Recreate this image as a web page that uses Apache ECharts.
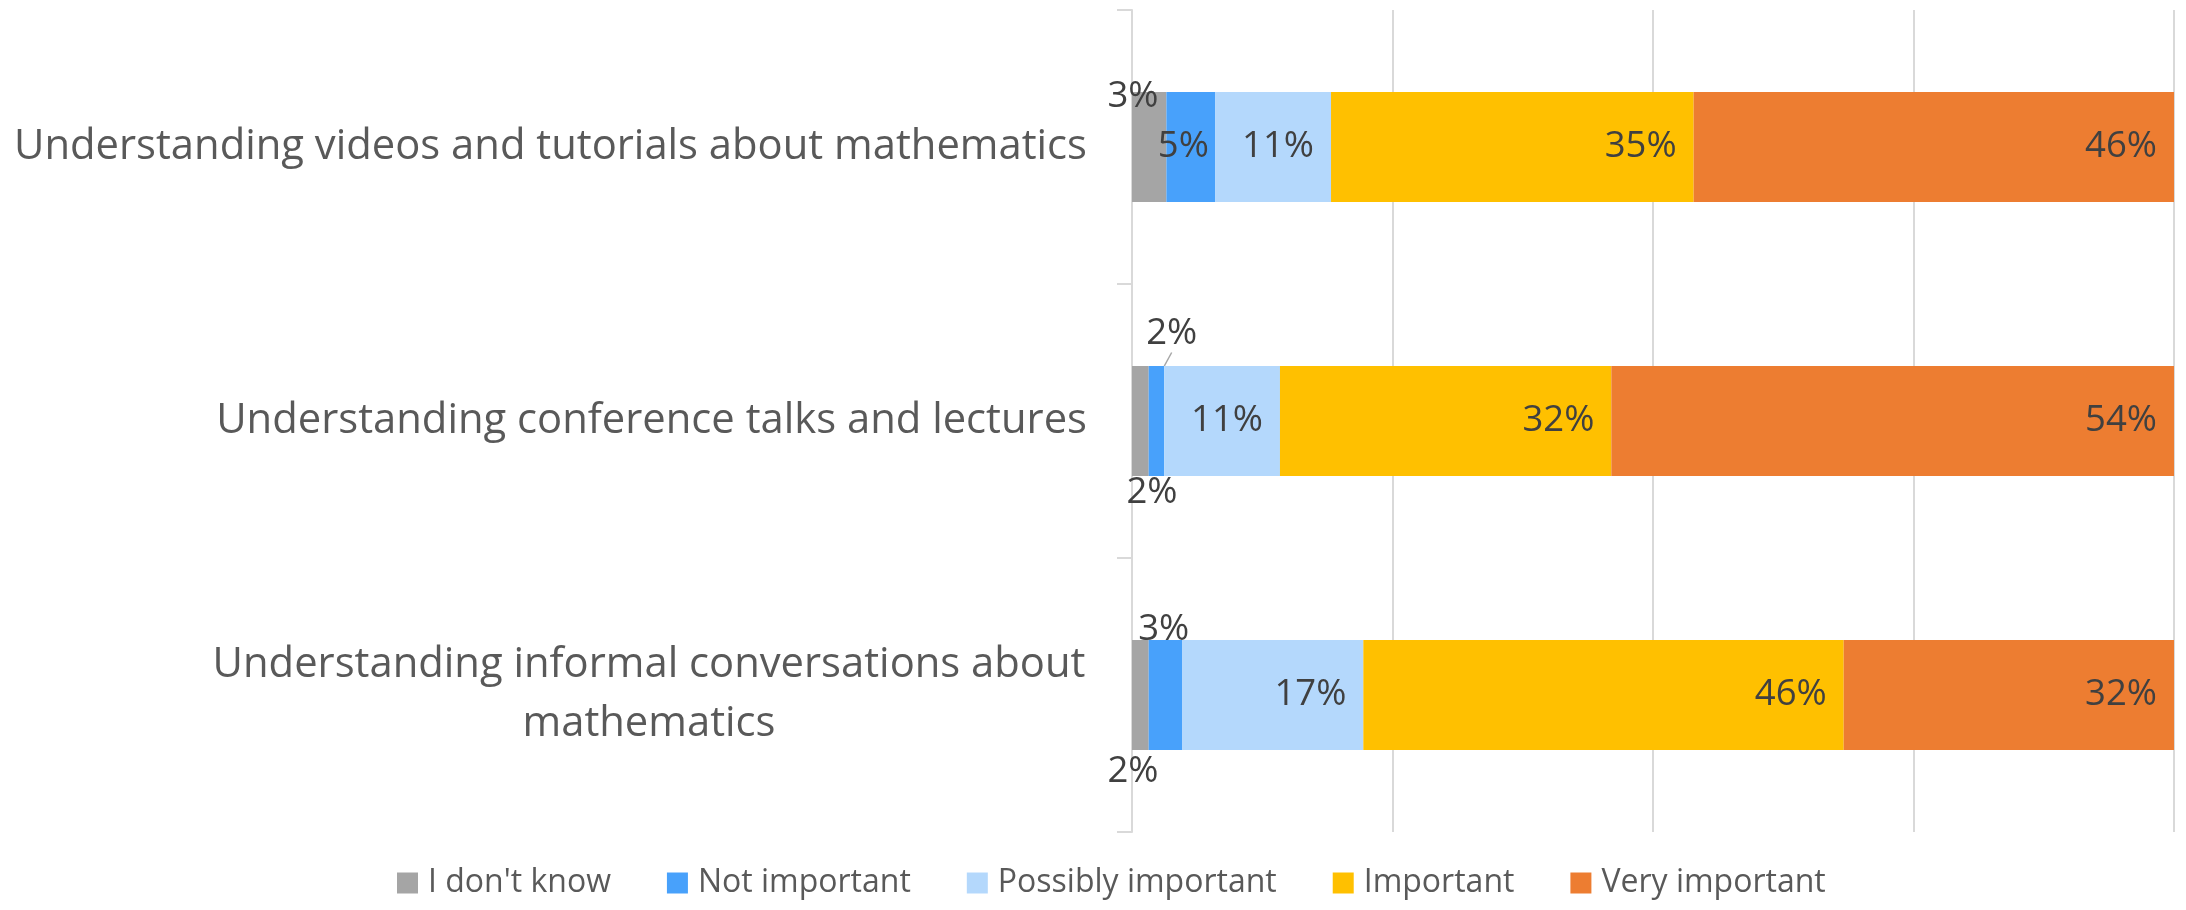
<!DOCTYPE html>
<html>
<head>
<meta charset="utf-8">
<style>
html,body{margin:0;padding:0;background:#fff;}
#chart{width:2186px;height:910px;}
</style>
<script src="https://cdn.jsdelivr.net/npm/echarts@6/dist/echarts.min.js"></script>
</head>
<body>
<div id="chart"></div>
<script>
// ---- data ----
const categories = [
  'Understanding videos and tutorials about mathematics',
  'Understanding conference talks and lectures',
  'Understanding informal conversations about\nmathematics'
];
const seriesNames = ['I don\'t know', 'Not important', 'Possibly important', 'Important', 'Very important'];
const dontKnow     = [0.033, 0.016, 0.016];
const notImportant = [0.047, 0.015, 0.032];
const possibly     = [0.111, 0.111, 0.174];
const important    = [0.348, 0.318, 0.461];
const veryImp      = [0.461, 0.540, 0.317];
const xTicks = [0, 0.25, 0.5, 0.75, 1];

// ---- styling ----
const colors = ['#A5A5A5', '#48A1FB', '#B4D8FC', '#FFC000', '#ED7D31'];
const FONT = '"Open Sans", "Noto Sans", sans-serif';
const allValues = [dontKnow, notImportant, possibly, important, veryImp];

// label placements for the small segments (series index -> row index -> [x, y] within bar rect)
const smallLabelPos = {
  0: {0: [1, 5], 1: [20, 127], 2: [1, 132]},
  1: {0: [17, 55], 1: [23, -32], 2: [15, -10]}
};

function fmt(v) { return Math.round(v * 100) + '%'; }

const series = allValues.map((vals, si) => ({
  name: seriesNames[si],
  type: 'bar',
  stack: 'total',
  barWidth: 110,
  itemStyle: {color: colors[si]},
  label: {
    show: true,
    position: 'insideRight',
    distance: 17,
    color: '#404040',
    fontSize: 36.5,
    fontFamily: FONT,
    formatter: p => fmt(p.value)
  },
  data: vals.map((v, ri) => {
    const pos = smallLabelPos[si] && smallLabelPos[si][ri];
    if (!pos) return v;
    const item = {
      value: v,
      label: {position: pos, align: 'center', verticalAlign: 'middle', distance: 0}
    };
    if (si === 1 && ri === 1) {
      item.labelLine = {show: true, lineStyle: {color: '#A6A6A6', width: 1.5}};
    }
    return item;
  })
}));

const chart = echarts.init(document.getElementById('chart'), null, {renderer: 'canvas'});
chart.setOption({
  animation: false,
  backgroundColor: '#fff',
  grid: {left: 1132, right: 12, top: 10, bottom: 78, containLabel: false},
  legend: {
    data: seriesNames,
    bottom: 6,
    left: 392,
    icon: 'rect',
    itemWidth: 21,
    itemHeight: 21,
    itemGap: 56,
    textStyle: {fontSize: 32, color: '#595959', fontFamily: FONT, padding: [0, 0, 0, 5]}
  },
  xAxis: {
    type: 'value',
    min: xTicks[0],
    max: xTicks[xTicks.length - 1],
    interval: xTicks[1] - xTicks[0],
    axisLabel: {show: false},
    axisLine: {show: false},
    axisTick: {show: false},
    splitLine: {show: true, lineStyle: {color: '#D9D9D9', width: 2}}
  },
  yAxis: {
    type: 'category',
    data: categories,
    inverse: true,
    axisLine: {show: true, lineStyle: {color: '#D9D9D9', width: 2}},
    axisTick: {show: true, length: 15, lineStyle: {color: '#D9D9D9', width: 2}},
    axisLabel: {
      margin: 45,
      fontSize: 41.75,
      fontFamily: FONT,
      color: '#595959',
      lineHeight: 59,
      formatter: v => v.indexOf('\n') >= 0 ? v.split('\n').map(s => '{c|' + s + '}').join('\n') : v,
      rich: {c: {width: 876, align: 'center', fontSize: 41.75, fontFamily: FONT, color: '#595959', lineHeight: 59}}
    }
  },
  series: series
});
</script>
</body>
</html>
